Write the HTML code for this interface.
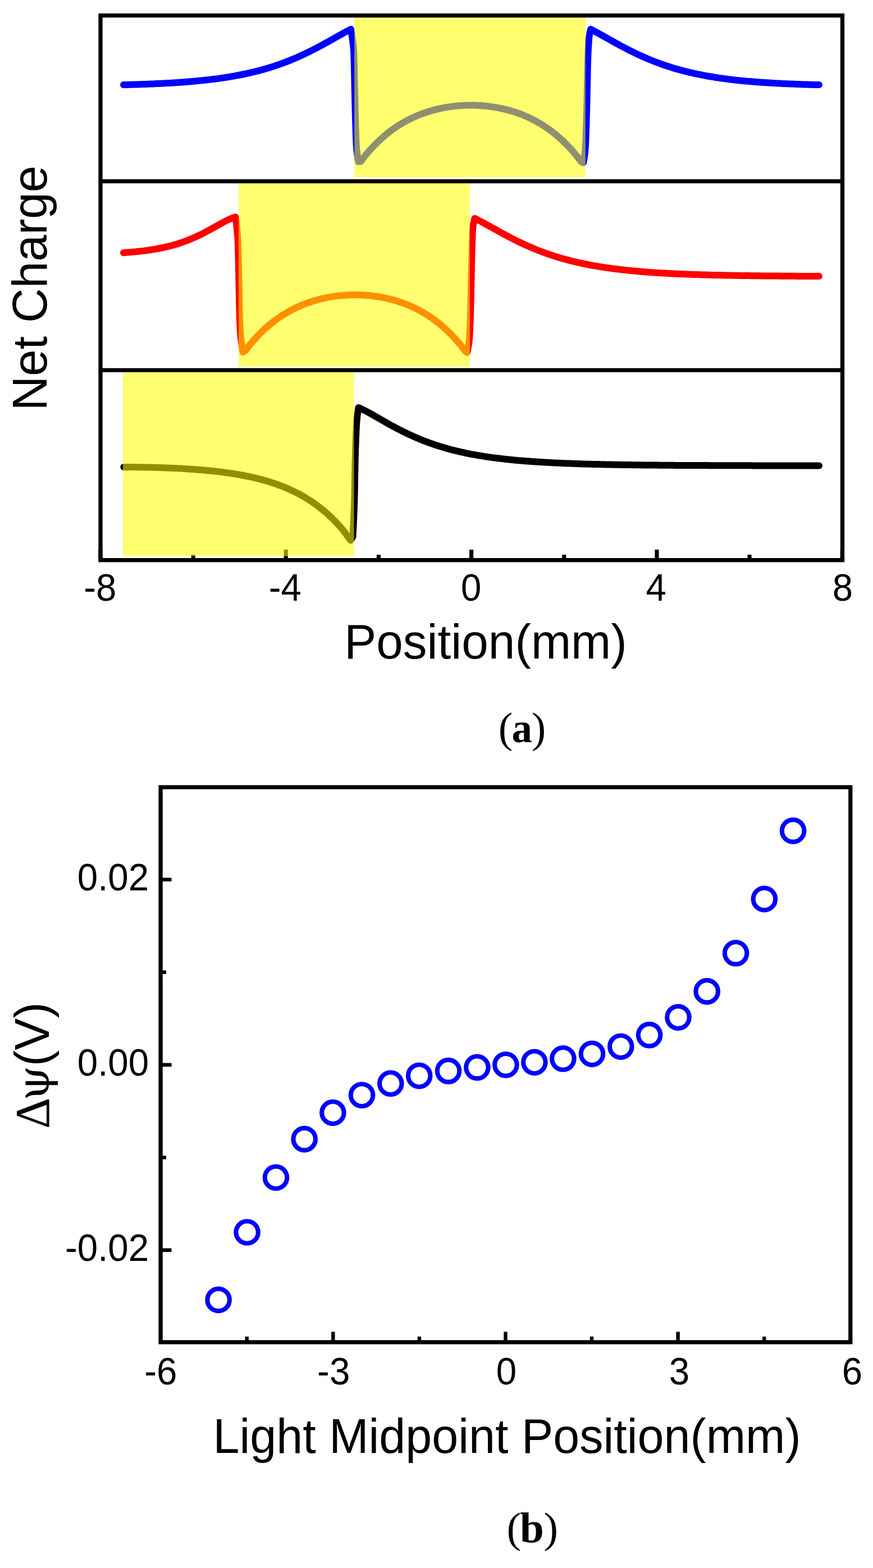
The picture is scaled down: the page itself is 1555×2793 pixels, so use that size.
<!DOCTYPE html>
<html><head><meta charset="utf-8"><title>Figure</title>
<style>html,body{margin:0;padding:0;background:#fff;}svg{display:block;}.s{font-family:"Liberation Sans",Arial,sans-serif;fill:#000;}.r{font-family:"Liberation Serif","Times New Roman",serif;fill:#000;}</style></head><body>
<svg width="1555" height="2793" viewBox="0 0 1555 2793">
<rect width="1555" height="2793" fill="#fff"/>
<path d="M178.9,997.7 V979 M509.2,997.7 V979 M839.6,997.7 V979 M1170,997.7 V979 M1500.3,997.7 V979 M344.1,997.7 V988 M674.4,997.7 V988 M1004.8,997.7 V988 M1335.1,997.7 V988" stroke="#000" stroke-width="7.1" fill="none"/>
<g fill="none" stroke-width="12.0" stroke-linejoin="round" stroke-linecap="round">
<path d="M220,151.1 L222.5,151 L225,151 L227.5,150.9 L230,150.8 L232.5,150.8 L235,150.7 L237.5,150.6 L240,150.5 L242.5,150.5 L245,150.4 L247.5,150.3 L250,150.2 L252.5,150.1 L255,150 L257.5,149.9 L260,149.9 L262.5,149.8 L265,149.7 L267.5,149.6 L270,149.5 L272.5,149.4 L275,149.2 L277.5,149.1 L280,149 L282.5,148.9 L285,148.8 L287.5,148.7 L290,148.5 L292.5,148.4 L295,148.3 L297.5,148.1 L300,148 L302.5,147.9 L305,147.7 L307.5,147.6 L310,147.4 L312.5,147.2 L315,147.1 L317.5,146.9 L320,146.7 L322.5,146.6 L325,146.4 L327.5,146.2 L330,146 L332.5,145.8 L335,145.6 L337.5,145.4 L340,145.2 L342.5,145 L345,144.8 L347.5,144.5 L350,144.3 L352.5,144.1 L355,143.8 L357.5,143.6 L360,143.3 L362.5,143.1 L365,142.8 L367.5,142.5 L370,142.2 L372.5,141.9 L375,141.6 L377.5,141.3 L380,141 L382.5,140.7 L385,140.4 L387.5,140.1 L390,139.7 L392.5,139.4 L395,139 L397.5,138.6 L400,138.3 L402.5,137.9 L405,137.5 L407.5,137.1 L410,136.7 L412.5,136.2 L415,135.8 L417.5,135.4 L420,134.9 L422.5,134.4 L425,134 L427.5,133.5 L430,133 L432.5,132.5 L435,132 L437.5,131.4 L440,130.9 L442.5,130.3 L445,129.8 L447.5,129.2 L450,128.6 L452.5,128 L455,127.4 L457.5,126.8 L460,126.1 L462.5,125.4 L465,124.8 L467.5,124.1 L470,123.4 L472.5,122.7 L475,121.9 L477.5,121.2 L480,120.4 L482.5,119.7 L485,118.9 L487.5,118.1 L490,117.2 L492.5,116.4 L495,115.5 L497.5,114.7 L500,113.8 L502.5,112.9 L505,112 L507.5,111 L510,110.1 L512.5,109.1 L515,108.1 L517.5,107.1 L520,106.1 L522.5,105 L525,104 L527.5,102.9 L530,101.8 L532.5,100.7 L535,99.6 L537.5,98.5 L540,97.3 L542.5,96.1 L545,94.9 L547.5,93.7 L550,92.5 L552.5,91.3 L555,90 L557.5,88.7 L560,87.5 L562.5,86.2 L565,84.8 L567.5,83.5 L570,82.2 L572.5,80.8 L575,79.5 L577.5,78.1 L580,76.7 L582.5,75.4 L585,74 L587.5,72.6 L590,71.2 L592.5,69.8 L595,68.4 L597.5,66.9 L600,65.5 L602.5,64.1 L605,62.7 L607.5,61.4 L610,60 L612.5,58.6 L615,57.2 L617.5,55.9 L620,54.6 L622.5,53.3 L625,52 L625.5,55.3 L626,58.3 L626.5,61.4 L627,64.4 L627.4,67.4 L627.9,70.4 L628.3,73.5 L628.7,76.5 L629,79.5 L629.3,82.5 L629.6,85.5 L629.9,88.6 L630,91.6 L630.2,94.6 L630.3,97.6 L630.4,100.6 L630.5,103.7 L630.6,106.7 L630.7,109.7 L630.8,112.7 L630.9,115.8 L630.9,118.8 L631,121.8 L631.1,124.8 L631.1,127.8 L631.2,130.9 L631.2,133.9 L631.3,136.9 L631.4,139.9 L631.4,143 L631.5,146 L631.5,149 L631.6,152 L631.7,155 L631.8,158.1 L631.8,161.1 L631.9,164.1 L632,167.1 L632.1,170.1 L632.1,173.2 L632.2,176.2 L632.3,179.2 L632.3,182.2 L632.4,185.3 L632.5,188.3 L632.6,191.3 L632.6,194.3 L632.7,197.3 L632.8,200.4 L632.9,203.4 L632.9,206.4 L633,209.4 L633.1,212.5 L633.2,215.5 L633.3,218.5 L633.4,221.5 L633.5,224.5 L633.6,227.6 L633.7,230.6 L633.7,233.6 L633.8,236.6 L633.9,239.7 L634,242.7 L634.2,245.7 L634.3,248.7 L634.4,251.7 L634.6,254.8 L634.7,257.8 L634.9,260.8 L635.1,263.8 L635.4,266.8 L635.7,269.9 L636.1,272.9 L636.5,275.9 L636.9,278.9 L637.4,282 L637.8,285 L638.3,288 L642.5,287.6 L645,284.3 L647.5,281.1 L650,277.9 L652.5,274.9 L655,271.9 L657.5,269 L660,266.2 L662.5,263.4 L665,260.8 L667.5,258.2 L670,255.6 L672.5,253.2 L675,250.8 L677.5,248.4 L680,246.2 L682.5,244 L685,241.8 L687.5,239.7 L690,237.7 L692.5,235.7 L695,233.8 L697.5,231.9 L700,230.1 L702.5,228.4 L705,226.7 L707.5,225 L710,223.4 L712.5,221.8 L715,220.3 L717.5,218.8 L720,217.4 L722.5,216 L725,214.7 L727.5,213.4 L730,212.1 L732.5,210.9 L735,209.7 L737.5,208.5 L740,207.4 L742.5,206.3 L745,205.3 L747.5,204.3 L750,203.3 L752.5,202.4 L755,201.5 L757.5,200.6 L760,199.8 L762.5,199 L765,198.2 L767.5,197.5 L770,196.7 L772.5,196.1 L775,195.4 L777.5,194.8 L780,194.2 L782.5,193.6 L785,193.1 L787.5,192.5 L790,192.1 L792.5,191.6 L795,191.1 L797.5,190.7 L800,190.4 L802.5,190 L805,189.7 L807.5,189.3 L810,189.1 L812.5,188.8 L815,188.6 L817.5,188.3 L820,188.2 L822.5,188 L825,187.9 L827.5,187.7 L830,187.6 L832.5,187.6 L835,187.5 L837.5,187.5 L840,187.5 L842.5,187.5 L845,187.6 L847.5,187.6 L850,187.7 L852.5,187.9 L855,188 L857.5,188.2 L860,188.4 L862.5,188.6 L865,188.8 L867.5,189.1 L870,189.4 L872.5,189.7 L875,190 L877.5,190.4 L880,190.8 L882.5,191.2 L885,191.6 L887.5,192.1 L890,192.6 L892.5,193.1 L895,193.6 L897.5,194.2 L900,194.8 L902.5,195.4 L905,196.1 L907.5,196.8 L910,197.5 L912.5,198.2 L915,199 L917.5,199.8 L920,200.7 L922.5,201.5 L925,202.4 L927.5,203.4 L930,204.3 L932.5,205.3 L935,206.4 L937.5,207.5 L940,208.6 L942.5,209.7 L945,210.9 L947.5,212.1 L950,213.4 L952.5,214.7 L955,216.1 L957.5,217.5 L960,218.9 L962.5,220.4 L965,221.9 L967.5,223.5 L970,225.1 L972.5,226.7 L975,228.4 L977.5,230.2 L980,232 L982.5,233.9 L985,235.8 L987.5,237.8 L990,239.8 L992.5,241.9 L995,244.1 L997.5,246.3 L1000,248.5 L1002.5,250.9 L1005,253.3 L1007.5,255.7 L1010,258.3 L1012.5,260.9 L1015,263.5 L1017.5,266.3 L1020,269.1 L1022.5,272 L1025,275 L1027.5,278 L1030,281.2 L1032.5,284.4 L1035,287.7 L1039,290 L1039.5,287 L1040.1,284 L1040.6,281 L1041.1,278 L1041.5,275 L1041.9,271.9 L1042.2,268.9 L1042.5,265.9 L1042.7,262.9 L1042.9,259.9 L1043,256.9 L1043.2,253.9 L1043.3,250.9 L1043.5,247.9 L1043.6,244.9 L1043.7,241.9 L1043.8,238.8 L1043.9,235.8 L1044,232.8 L1044.1,229.8 L1044.2,226.8 L1044.3,223.8 L1044.4,220.8 L1044.5,217.8 L1044.6,214.8 L1044.6,211.8 L1044.7,208.8 L1044.8,205.8 L1044.9,202.7 L1045,199.7 L1045.1,196.7 L1045.1,193.7 L1045.2,190.7 L1045.3,187.7 L1045.4,184.7 L1045.4,181.7 L1045.5,178.7 L1045.6,175.7 L1045.6,172.7 L1045.7,169.6 L1045.8,166.6 L1045.8,163.6 L1045.9,160.6 L1046,157.6 L1046,154.6 L1046.1,151.6 L1046.1,148.6 L1046.2,145.6 L1046.3,142.6 L1046.3,139.6 L1046.4,136.5 L1046.4,133.5 L1046.5,130.5 L1046.5,127.5 L1046.6,124.5 L1046.7,121.5 L1046.7,118.5 L1046.8,115.5 L1046.9,112.5 L1047,109.5 L1047.1,106.5 L1047.2,103.5 L1047.3,100.4 L1047.4,97.4 L1047.5,94.4 L1047.7,91.4 L1047.8,88.4 L1048,85.4 L1048.2,82.4 L1048.4,79.4 L1048.6,76.4 L1048.8,73.4 L1049,70.4 L1049.3,67.3 L1049.7,64.3 L1050.1,61.3 L1050.7,58.3 L1051.3,55.3 L1052,52 L1054.5,53.3 L1057,54.6 L1059.5,55.9 L1062,57.3 L1064.6,58.6 L1067.1,60 L1069.6,61.4 L1072.1,62.8 L1074.6,64.2 L1077.1,65.6 L1079.6,67 L1082.1,68.4 L1084.7,69.9 L1087.2,71.3 L1089.7,72.7 L1092.2,74.1 L1094.7,75.5 L1097.2,76.9 L1099.7,78.2 L1102.2,79.6 L1104.8,81 L1107.3,82.3 L1109.8,83.7 L1112.3,85 L1114.8,86.3 L1117.3,87.6 L1119.8,88.9 L1122.3,90.2 L1124.9,91.4 L1127.4,92.7 L1129.9,93.9 L1132.4,95.1 L1134.9,96.3 L1137.4,97.5 L1139.9,98.6 L1142.4,99.8 L1145,100.9 L1147.5,102 L1150,103.1 L1152.5,104.2 L1155,105.3 L1157.5,106.3 L1160,107.3 L1162.5,108.3 L1165.1,109.3 L1167.6,110.3 L1170.1,111.2 L1172.6,112.2 L1175.1,113.1 L1177.6,114 L1180.1,114.9 L1182.6,115.8 L1185.2,116.6 L1187.7,117.5 L1190.2,118.3 L1192.7,119.1 L1195.2,119.9 L1197.7,120.7 L1200.2,121.4 L1202.7,122.2 L1205.3,122.9 L1207.8,123.6 L1210.3,124.3 L1212.8,125 L1215.3,125.7 L1217.8,126.3 L1220.3,127 L1222.8,127.6 L1225.4,128.2 L1227.9,128.8 L1230.4,129.4 L1232.9,130 L1235.4,130.5 L1237.9,131.1 L1240.4,131.6 L1242.9,132.2 L1245.5,132.7 L1248,133.2 L1250.5,133.7 L1253,134.2 L1255.5,134.6 L1258,135.1 L1260.5,135.5 L1263,136 L1265.5,136.4 L1268.1,136.8 L1270.6,137.2 L1273.1,137.7 L1275.6,138 L1278.1,138.4 L1280.6,138.8 L1283.1,139.2 L1285.6,139.5 L1288.2,139.9 L1290.7,140.2 L1293.2,140.5 L1295.7,140.9 L1298.2,141.2 L1300.7,141.5 L1303.2,141.8 L1305.7,142.1 L1308.3,142.4 L1310.8,142.7 L1313.3,142.9 L1315.8,143.2 L1318.3,143.5 L1320.8,143.7 L1323.3,144 L1325.8,144.2 L1328.4,144.4 L1330.9,144.7 L1333.4,144.9 L1335.9,145.1 L1338.4,145.3 L1340.9,145.5 L1343.4,145.7 L1345.9,145.9 L1348.5,146.1 L1351,146.3 L1353.5,146.5 L1356,146.7 L1358.5,146.8 L1361,147 L1363.5,147.2 L1366,147.3 L1368.6,147.5 L1371.1,147.6 L1373.6,147.8 L1376.1,147.9 L1378.6,148.1 L1381.1,148.2 L1383.6,148.4 L1386.1,148.5 L1388.7,148.6 L1391.2,148.7 L1393.7,148.9 L1396.2,149 L1398.7,149.1 L1401.2,149.2 L1403.7,149.3 L1406.2,149.4 L1408.8,149.5 L1411.3,149.6 L1413.8,149.7 L1416.3,149.8 L1418.8,149.9 L1421.3,150 L1423.8,150.1 L1426.3,150.2 L1428.9,150.3 L1431.4,150.4 L1433.9,150.4 L1436.4,150.5 L1438.9,150.6 L1441.4,150.7 L1443.9,150.7 L1446.4,150.8 L1449,150.9 L1451.5,150.9 L1454,151 L1456.5,151.1 L1459,151.1" stroke="#0000ff"/>
<path d="M220,450.2 L222.5,450 L225.1,449.8 L227.6,449.6 L230.1,449.4 L232.6,449.2 L235.2,449 L237.7,448.8 L240.2,448.5 L242.7,448.3 L245.3,448 L247.8,447.8 L250.3,447.5 L252.8,447.2 L255.4,446.9 L257.9,446.6 L260.4,446.2 L262.9,445.9 L265.5,445.5 L268,445.1 L270.5,444.7 L273,444.3 L275.6,443.9 L278.1,443.5 L280.6,443 L283.1,442.5 L285.7,442 L288.2,441.5 L290.7,441 L293.2,440.4 L295.8,439.9 L298.3,439.3 L300.8,438.6 L303.3,438 L305.9,437.3 L308.4,436.6 L310.9,435.9 L313.4,435.2 L316,434.4 L318.5,433.6 L321,432.8 L323.5,431.9 L326.1,431.1 L328.6,430.2 L331.1,429.2 L333.6,428.3 L336.2,427.3 L338.7,426.2 L341.2,425.2 L343.7,424.1 L346.3,423 L348.8,421.9 L351.3,420.7 L353.8,419.5 L356.4,418.3 L358.9,417.1 L361.4,415.8 L363.9,414.5 L366.5,413.2 L369,411.8 L371.5,410.5 L374,409.1 L376.6,407.7 L379.1,406.3 L381.6,404.9 L384.1,403.5 L386.7,402.1 L389.2,400.6 L391.7,399.2 L394.2,397.8 L396.8,396.5 L399.3,395.1 L401.8,393.8 L404.3,392.5 L406.9,391.3 L409.4,390.2 L411.9,389.1 L414.4,388.1 L417,387.2 L419.5,386.4 L419.9,389.5 L420.3,392.5 L420.6,395.5 L421,398.5 L421.3,401.5 L421.7,404.5 L422,407.5 L422.3,410.6 L422.6,413.6 L422.9,416.6 L423.1,419.6 L423.3,422.6 L423.5,425.6 L423.7,428.6 L423.8,431.6 L423.9,434.6 L424,437.6 L424.1,440.6 L424.2,443.6 L424.3,446.6 L424.4,449.6 L424.5,452.6 L424.5,455.6 L424.6,458.6 L424.7,461.7 L424.7,464.7 L424.8,467.7 L424.9,470.7 L424.9,473.7 L425,476.7 L425,479.7 L425.1,482.7 L425.2,485.7 L425.2,488.7 L425.3,491.7 L425.3,494.7 L425.4,497.7 L425.5,500.7 L425.5,503.7 L425.6,506.8 L425.6,509.8 L425.7,512.8 L425.7,515.8 L425.8,518.8 L425.8,521.8 L425.9,524.8 L426,527.8 L426,530.8 L426.1,533.8 L426.2,536.8 L426.2,539.8 L426.3,542.8 L426.4,545.8 L426.4,548.8 L426.5,551.8 L426.6,554.9 L426.7,557.9 L426.8,560.9 L426.8,563.9 L426.9,566.9 L427,569.9 L427.1,572.9 L427.3,575.9 L427.4,578.9 L427.5,581.9 L427.7,584.9 L427.8,587.9 L428,590.9 L428.3,593.9 L428.5,596.9 L428.8,599.9 L429.2,603 L429.5,606 L429.9,609 L430.3,612 L430.7,615 L431.1,618 L431.6,621 L432,624 L432.5,627 L436.5,625.1 L439,621.8 L441.5,618.6 L444,615.4 L446.6,612.4 L449.1,609.4 L451.6,606.5 L454.1,603.7 L456.6,600.9 L459.1,598.2 L461.6,595.6 L464.1,593.1 L466.7,590.6 L469.2,588.2 L471.7,585.9 L474.2,583.6 L476.7,581.4 L479.2,579.3 L481.7,577.2 L484.2,575.1 L486.8,573.2 L489.3,571.3 L491.8,569.4 L494.3,567.6 L496.8,565.8 L499.3,564.1 L501.8,562.5 L504.3,560.8 L506.9,559.3 L509.4,557.8 L511.9,556.3 L514.4,554.9 L516.9,553.5 L519.4,552.1 L521.9,550.8 L524.4,549.6 L527,548.3 L529.5,547.2 L532,546 L534.5,544.9 L537,543.8 L539.5,542.8 L542,541.8 L544.6,540.8 L547.1,539.9 L549.6,539 L552.1,538.2 L554.6,537.3 L557.1,536.5 L559.6,535.8 L562.1,535 L564.7,534.3 L567.2,533.6 L569.7,533 L572.2,532.4 L574.7,531.8 L577.2,531.2 L579.7,530.7 L582.2,530.2 L584.8,529.7 L587.3,529.2 L589.8,528.8 L592.3,528.4 L594.8,528 L597.3,527.7 L599.8,527.3 L602.3,527 L604.9,526.7 L607.4,526.5 L609.9,526.3 L612.4,526.1 L614.9,525.9 L617.4,525.7 L619.9,525.6 L622.4,525.5 L625,525.4 L627.5,525.3 L630,525.3 L632.5,525.3 L635,525.3 L637.5,525.3 L640,525.4 L642.6,525.5 L645.1,525.6 L647.6,525.7 L650.1,525.9 L652.6,526.1 L655.1,526.3 L657.6,526.5 L660.1,526.7 L662.7,527 L665.2,527.3 L667.7,527.7 L670.2,528 L672.7,528.4 L675.2,528.8 L677.7,529.2 L680.2,529.7 L682.8,530.2 L685.3,530.7 L687.8,531.2 L690.3,531.8 L692.8,532.4 L695.3,533 L697.8,533.6 L700.3,534.3 L702.9,535 L705.4,535.8 L707.9,536.5 L710.4,537.3 L712.9,538.2 L715.4,539 L717.9,539.9 L720.4,540.8 L723,541.8 L725.5,542.8 L728,543.8 L730.5,544.9 L733,546 L735.5,547.2 L738,548.3 L740.6,549.6 L743.1,550.8 L745.6,552.1 L748.1,553.5 L750.6,554.9 L753.1,556.3 L755.6,557.8 L758.1,559.3 L760.7,560.8 L763.2,562.5 L765.7,564.1 L768.2,565.8 L770.7,567.6 L773.2,569.4 L775.7,571.3 L778.2,573.2 L780.8,575.1 L783.3,577.2 L785.8,579.3 L788.3,581.4 L790.8,583.6 L793.3,585.9 L795.8,588.2 L798.3,590.6 L800.9,593.1 L803.4,595.6 L805.9,598.2 L808.4,600.9 L810.9,603.7 L813.4,606.5 L815.9,609.4 L818.4,612.4 L821,615.4 L823.5,618.6 L826,621.8 L828.5,625.1 L832,628 L832.7,625 L833.3,621.9 L833.9,618.9 L834.5,615.9 L835,612.9 L835.5,609.8 L835.8,606.8 L836,603.8 L836.3,600.8 L836.4,597.7 L836.6,594.7 L836.8,591.7 L836.9,588.7 L837.1,585.6 L837.2,582.6 L837.3,579.6 L837.5,576.6 L837.6,573.5 L837.7,570.5 L837.8,567.5 L837.9,564.5 L838,561.4 L838,558.4 L838.1,555.4 L838.2,552.4 L838.3,549.3 L838.4,546.3 L838.5,543.3 L838.5,540.3 L838.6,537.2 L838.7,534.2 L838.8,531.2 L838.8,528.2 L838.9,525.1 L838.9,522.1 L839,519.1 L839.1,516.1 L839.1,513 L839.2,510 L839.3,507 L839.3,504 L839.4,500.9 L839.5,497.9 L839.5,494.9 L839.6,491.9 L839.7,488.8 L839.7,485.8 L839.8,482.8 L839.9,479.8 L839.9,476.7 L840,473.7 L840,470.7 L840.1,467.7 L840.2,464.6 L840.3,461.6 L840.3,458.6 L840.4,455.6 L840.5,452.5 L840.6,449.5 L840.7,446.5 L840.7,443.5 L840.8,440.4 L840.9,437.4 L841,434.4 L841.1,431.4 L841.2,428.3 L841.3,425.3 L841.4,422.3 L841.5,419.3 L841.6,416.2 L841.8,413.2 L842,410.2 L842.2,407.2 L842.4,404.1 L842.9,401.1 L843.4,398.1 L844.1,395.1 L844.8,392 L845.5,389 L848,390.2 L850.5,391.4 L853,392.7 L855.5,394 L858,395.3 L860.5,396.7 L863,398 L865.5,399.4 L868,400.8 L870.5,402.2 L873,403.6 L875.5,405 L878.1,406.3 L880.6,407.7 L883.1,409.1 L885.6,410.5 L888.1,411.9 L890.6,413.3 L893.1,414.7 L895.6,416 L898.1,417.4 L900.6,418.7 L903.1,420 L905.6,421.4 L908.1,422.7 L910.6,424 L913.1,425.3 L915.6,426.5 L918.1,427.8 L920.6,429 L923.1,430.3 L925.6,431.5 L928.1,432.7 L930.6,433.8 L933.1,435 L935.6,436.2 L938.2,437.3 L940.7,438.4 L943.2,439.5 L945.7,440.6 L948.2,441.6 L950.7,442.7 L953.2,443.7 L955.7,444.7 L958.2,445.7 L960.7,446.7 L963.2,447.7 L965.7,448.6 L968.2,449.5 L970.7,450.5 L973.2,451.4 L975.7,452.2 L978.2,453.1 L980.7,453.9 L983.2,454.8 L985.7,455.6 L988.2,456.4 L990.7,457.2 L993.2,458 L995.7,458.7 L998.2,459.5 L1000.8,460.2 L1003.3,460.9 L1005.8,461.6 L1008.3,462.3 L1010.8,462.9 L1013.3,463.6 L1015.8,464.3 L1018.3,464.9 L1020.8,465.5 L1023.3,466.1 L1025.8,466.7 L1028.3,467.3 L1030.8,467.8 L1033.3,468.4 L1035.8,469 L1038.3,469.5 L1040.8,470 L1043.3,470.5 L1045.8,471 L1048.3,471.5 L1050.8,472 L1053.3,472.5 L1055.8,472.9 L1058.3,473.4 L1060.9,473.8 L1063.4,474.2 L1065.9,474.7 L1068.4,475.1 L1070.9,475.5 L1073.4,475.9 L1075.9,476.2 L1078.4,476.6 L1080.9,477 L1083.4,477.3 L1085.9,477.7 L1088.4,478 L1090.9,478.4 L1093.4,478.7 L1095.9,479 L1098.4,479.3 L1100.9,479.6 L1103.4,479.9 L1105.9,480.2 L1108.4,480.5 L1110.9,480.8 L1113.4,481.1 L1115.9,481.3 L1118.4,481.6 L1120.9,481.9 L1123.5,482.1 L1126,482.3 L1128.5,482.6 L1131,482.8 L1133.5,483 L1136,483.3 L1138.5,483.5 L1141,483.7 L1143.5,483.9 L1146,484.1 L1148.5,484.3 L1151,484.5 L1153.5,484.7 L1156,484.9 L1158.5,485 L1161,485.2 L1163.5,485.4 L1166,485.6 L1168.5,485.7 L1171,485.9 L1173.5,486 L1176,486.2 L1178.5,486.3 L1181,486.5 L1183.6,486.6 L1186.1,486.8 L1188.6,486.9 L1191.1,487 L1193.6,487.2 L1196.1,487.3 L1198.6,487.4 L1201.1,487.5 L1203.6,487.7 L1206.1,487.8 L1208.6,487.9 L1211.1,488 L1213.6,488.1 L1216.1,488.2 L1218.6,488.3 L1221.1,488.4 L1223.6,488.5 L1226.1,488.6 L1228.6,488.7 L1231.1,488.8 L1233.6,488.9 L1236.1,488.9 L1238.6,489 L1241.1,489.1 L1243.6,489.2 L1246.2,489.3 L1248.7,489.3 L1251.2,489.4 L1253.7,489.5 L1256.2,489.6 L1258.7,489.6 L1261.2,489.7 L1263.7,489.8 L1266.2,489.8 L1268.7,489.9 L1271.2,490 L1273.7,490 L1276.2,490.1 L1278.7,490.1 L1281.2,490.2 L1283.7,490.2 L1286.2,490.3 L1288.7,490.3 L1291.2,490.4 L1293.7,490.4 L1296.2,490.5 L1298.7,490.5 L1301.2,490.6 L1303.7,490.6 L1306.3,490.7 L1308.8,490.7 L1311.3,490.8 L1313.8,490.8 L1316.3,490.8 L1318.8,490.9 L1321.3,490.9 L1323.8,491 L1326.3,491 L1328.8,491 L1331.3,491.1 L1333.8,491.1 L1336.3,491.1 L1338.8,491.2 L1341.3,491.2 L1343.8,491.2 L1346.3,491.2 L1348.8,491.3 L1351.3,491.3 L1353.8,491.3 L1356.3,491.4 L1358.8,491.4 L1361.3,491.4 L1363.8,491.4 L1366.3,491.5 L1368.9,491.5 L1371.4,491.5 L1373.9,491.5 L1376.4,491.6 L1378.9,491.6 L1381.4,491.6 L1383.9,491.6 L1386.4,491.6 L1388.9,491.7 L1391.4,491.7 L1393.9,491.7 L1396.4,491.7 L1398.9,491.7 L1401.4,491.7 L1403.9,491.8 L1406.4,491.8 L1408.9,491.8 L1411.4,491.8 L1413.9,491.8 L1416.4,491.8 L1418.9,491.9 L1421.4,491.9 L1423.9,491.9 L1426.4,491.9 L1429,491.9 L1431.5,491.9 L1434,491.9 L1436.5,492 L1439,492 L1441.5,492 L1444,492 L1446.5,492 L1449,492 L1451.5,492 L1454,492 L1456.5,492 L1459,492.1" stroke="#ff0000"/>
<path d="M220.3,832 L222.8,832.1 L225.3,832.1 L227.8,832.1 L230.3,832.1 L232.9,832.1 L235.4,832.1 L237.9,832.1 L240.4,832.1 L242.9,832.2 L245.4,832.2 L247.9,832.2 L250.4,832.3 L252.9,832.3 L255.5,832.3 L258,832.4 L260.5,832.4 L263,832.5 L265.5,832.5 L268,832.6 L270.5,832.6 L273,832.7 L275.5,832.7 L278.1,832.8 L280.6,832.9 L283.1,833 L285.6,833 L288.1,833.1 L290.6,833.2 L293.1,833.3 L295.6,833.4 L298.1,833.5 L300.6,833.6 L303.2,833.7 L305.7,833.8 L308.2,833.9 L310.7,834 L313.2,834.1 L315.7,834.2 L318.2,834.4 L320.7,834.5 L323.2,834.6 L325.8,834.8 L328.3,834.9 L330.8,835.1 L333.3,835.2 L335.8,835.4 L338.3,835.6 L340.8,835.7 L343.3,835.9 L345.8,836.1 L348.4,836.3 L350.9,836.5 L353.4,836.7 L355.9,836.9 L358.4,837.1 L360.9,837.3 L363.4,837.5 L365.9,837.7 L368.4,838 L371,838.2 L373.5,838.4 L376,838.7 L378.5,839 L381,839.2 L383.5,839.5 L386,839.8 L388.5,840.1 L391,840.4 L393.6,840.7 L396.1,841 L398.6,841.3 L401.1,841.7 L403.6,842 L406.1,842.4 L408.6,842.7 L411.1,843.1 L413.6,843.5 L416.1,843.9 L418.7,844.3 L421.2,844.7 L423.7,845.1 L426.2,845.6 L428.7,846 L431.2,846.5 L433.7,847 L436.2,847.5 L438.7,848 L441.3,848.5 L443.8,849 L446.3,849.5 L448.8,850.1 L451.3,850.7 L453.8,851.2 L456.3,851.8 L458.8,852.5 L461.3,853.1 L463.9,853.7 L466.4,854.4 L468.9,855.1 L471.4,855.8 L473.9,856.5 L476.4,857.3 L478.9,858 L481.4,858.8 L483.9,859.6 L486.5,860.4 L489,861.3 L491.5,862.1 L494,863 L496.5,863.9 L499,864.9 L501.5,865.8 L504,866.8 L506.5,867.8 L509.1,868.9 L511.6,869.9 L514.1,871 L516.6,872.1 L519.1,873.3 L521.6,874.5 L524.1,875.7 L526.6,876.9 L529.1,878.2 L531.7,879.5 L534.2,880.9 L536.7,882.2 L539.2,883.6 L541.7,885.1 L544.2,886.6 L546.7,888.1 L549.2,889.7 L551.7,891.3 L554.2,892.9 L556.8,894.6 L559.3,896.4 L561.8,898.2 L564.3,900 L566.8,901.9 L569.3,903.8 L571.8,905.8 L574.3,907.8 L576.8,909.9 L579.4,912 L581.9,914.2 L584.4,916.5 L586.9,918.8 L589.4,921.1 L591.9,923.6 L594.4,926.1 L596.9,928.6 L599.4,931.2 L602,933.9 L604.5,936.7 L607,939.5 L609.5,942.5 L612,945.4 L624.6,962.5 L628.5,956 L628.7,953 L628.8,949.9 L629,946.9 L629.1,943.9 L629.3,940.9 L629.4,937.8 L629.6,934.8 L629.7,931.8 L629.9,928.8 L630,925.7 L630.1,922.7 L630.3,919.7 L630.4,916.7 L630.5,913.6 L630.6,910.6 L630.8,907.6 L630.9,904.6 L631,901.5 L631.1,898.5 L631.2,895.5 L631.2,892.4 L631.3,889.4 L631.4,886.4 L631.5,883.4 L631.5,880.3 L631.6,877.3 L631.7,874.3 L631.7,871.3 L631.8,868.2 L631.8,865.2 L631.9,862.2 L631.9,859.2 L632,856.1 L632,853.1 L632.1,850.1 L632.2,847.1 L632.2,844 L632.3,841 L632.3,838 L632.4,834.9 L632.4,831.9 L632.5,828.9 L632.6,825.9 L632.6,822.8 L632.7,819.8 L632.8,816.8 L632.9,813.8 L633,810.7 L633,807.7 L633.1,804.7 L633.2,801.7 L633.3,798.6 L633.4,795.6 L633.5,792.6 L633.6,789.6 L633.7,786.5 L633.8,783.5 L633.9,780.5 L634,777.4 L634.2,774.4 L634.3,771.4 L634.4,768.4 L634.6,765.3 L634.7,762.3 L634.9,759.3 L635.1,756.3 L635.3,753.2 L635.5,750.2 L635.8,747.2 L636.1,744.2 L636.5,741.1 L636.8,738.1 L637.2,735.1 L637.7,732.1 L638.1,729 L638.5,726 L641,727.1 L643.5,728.2 L646,729.4 L648.5,730.7 L651,731.9 L653.5,733.2 L656,734.6 L658.5,735.9 L661,737.3 L663.5,738.7 L666,740.1 L668.5,741.6 L671,743 L673.5,744.4 L676,745.8 L678.5,747.3 L681,748.7 L683.5,750.1 L686,751.6 L688.5,753 L691,754.4 L693.5,755.8 L696,757.2 L698.5,758.5 L701,759.9 L703.5,761.2 L706,762.6 L708.5,763.9 L711,765.2 L713.5,766.5 L716,767.7 L718.5,769 L721.1,770.2 L723.6,771.4 L726.1,772.6 L728.6,773.8 L731.1,775 L733.6,776.1 L736.1,777.2 L738.6,778.3 L741.1,779.4 L743.6,780.5 L746.1,781.5 L748.6,782.6 L751.1,783.6 L753.6,784.6 L756.1,785.6 L758.6,786.5 L761.1,787.5 L763.6,788.4 L766.1,789.3 L768.6,790.2 L771.1,791 L773.6,791.9 L776.1,792.7 L778.6,793.5 L781.1,794.3 L783.6,795.1 L786.1,795.9 L788.6,796.6 L791.1,797.4 L793.6,798.1 L796.1,798.8 L798.6,799.5 L801.1,800.2 L803.6,800.9 L806.1,801.5 L808.6,802.1 L811.1,802.8 L813.6,803.4 L816.1,804 L818.6,804.5 L821.1,805.1 L823.6,805.7 L826.1,806.2 L828.6,806.8 L831.1,807.3 L833.6,807.8 L836.1,808.3 L838.6,808.8 L841.1,809.3 L843.6,809.7 L846.1,810.2 L848.6,810.6 L851.1,811.1 L853.6,811.5 L856.1,811.9 L858.6,812.3 L861.1,812.7 L863.6,813.1 L866.1,813.5 L868.6,813.9 L871.1,814.2 L873.6,814.6 L876.1,814.9 L878.6,815.3 L881.1,815.6 L883.6,815.9 L886.2,816.2 L888.7,816.5 L891.2,816.8 L893.7,817.1 L896.2,817.4 L898.7,817.7 L901.2,818 L903.7,818.2 L906.2,818.5 L908.7,818.8 L911.2,819 L913.7,819.3 L916.2,819.5 L918.7,819.7 L921.2,820 L923.7,820.2 L926.2,820.4 L928.7,820.6 L931.2,820.8 L933.7,821 L936.2,821.2 L938.7,821.4 L941.2,821.6 L943.7,821.8 L946.2,822 L948.7,822.2 L951.2,822.3 L953.7,822.5 L956.2,822.7 L958.7,822.8 L961.2,823 L963.7,823.1 L966.2,823.3 L968.7,823.4 L971.2,823.6 L973.7,823.7 L976.2,823.8 L978.7,824 L981.2,824.1 L983.7,824.2 L986.2,824.4 L988.7,824.5 L991.2,824.6 L993.7,824.7 L996.2,824.8 L998.7,824.9 L1001.2,825 L1003.7,825.2 L1006.2,825.3 L1008.7,825.4 L1011.2,825.5 L1013.7,825.5 L1016.2,825.6 L1018.7,825.7 L1021.2,825.8 L1023.7,825.9 L1026.2,826 L1028.7,826.1 L1031.2,826.2 L1033.7,826.2 L1036.2,826.3 L1038.7,826.4 L1041.2,826.5 L1043.7,826.5 L1046.2,826.6 L1048.8,826.7 L1051.3,826.7 L1053.8,826.8 L1056.3,826.9 L1058.8,826.9 L1061.3,827 L1063.8,827.1 L1066.3,827.1 L1068.8,827.2 L1071.3,827.2 L1073.8,827.3 L1076.3,827.3 L1078.8,827.4 L1081.3,827.4 L1083.8,827.5 L1086.3,827.5 L1088.8,827.6 L1091.3,827.6 L1093.8,827.7 L1096.3,827.7 L1098.8,827.8 L1101.3,827.8 L1103.8,827.8 L1106.3,827.9 L1108.8,827.9 L1111.3,828 L1113.8,828 L1116.3,828 L1118.8,828.1 L1121.3,828.1 L1123.8,828.1 L1126.3,828.2 L1128.8,828.2 L1131.3,828.2 L1133.8,828.3 L1136.3,828.3 L1138.8,828.3 L1141.3,828.3 L1143.8,828.4 L1146.3,828.4 L1148.8,828.4 L1151.3,828.4 L1153.8,828.5 L1156.3,828.5 L1158.8,828.5 L1161.3,828.5 L1163.8,828.6 L1166.3,828.6 L1168.8,828.6 L1171.3,828.6 L1173.8,828.7 L1176.3,828.7 L1178.8,828.7 L1181.3,828.7 L1183.8,828.7 L1186.3,828.8 L1188.8,828.8 L1191.3,828.8 L1193.8,828.8 L1196.3,828.8 L1198.8,828.8 L1201.3,828.9 L1203.8,828.9 L1206.3,828.9 L1208.8,828.9 L1211.3,828.9 L1213.9,828.9 L1216.4,828.9 L1218.9,829 L1221.4,829 L1223.9,829 L1226.4,829 L1228.9,829 L1231.4,829 L1233.9,829 L1236.4,829 L1238.9,829.1 L1241.4,829.1 L1243.9,829.1 L1246.4,829.1 L1248.9,829.1 L1251.4,829.1 L1253.9,829.1 L1256.4,829.1 L1258.9,829.1 L1261.4,829.1 L1263.9,829.2 L1266.4,829.2 L1268.9,829.2 L1271.4,829.2 L1273.9,829.2 L1276.4,829.2 L1278.9,829.2 L1281.4,829.2 L1283.9,829.2 L1286.4,829.2 L1288.9,829.2 L1291.4,829.2 L1293.9,829.2 L1296.4,829.3 L1298.9,829.3 L1301.4,829.3 L1303.9,829.3 L1306.4,829.3 L1308.9,829.3 L1311.4,829.3 L1313.9,829.3 L1316.4,829.3 L1318.9,829.3 L1321.4,829.3 L1323.9,829.3 L1326.4,829.3 L1328.9,829.3 L1331.4,829.3 L1333.9,829.3 L1336.4,829.3 L1338.9,829.3 L1341.4,829.4 L1343.9,829.4 L1346.4,829.4 L1348.9,829.4 L1351.4,829.4 L1353.9,829.4 L1356.4,829.4 L1358.9,829.4 L1361.4,829.4 L1363.9,829.4 L1366.4,829.4 L1368.9,829.4 L1371.4,829.4 L1373.9,829.4 L1376.4,829.4 L1379,829.4 L1381.5,829.4 L1384,829.4 L1386.5,829.4 L1389,829.4 L1391.5,829.4 L1394,829.4 L1396.5,829.4 L1399,829.4 L1401.5,829.4 L1404,829.4 L1406.5,829.4 L1409,829.4 L1411.5,829.4 L1414,829.4 L1416.5,829.4 L1419,829.4 L1421.5,829.4 L1424,829.4 L1426.5,829.4 L1429,829.5 L1431.5,829.5 L1434,829.5 L1436.5,829.5 L1439,829.5 L1441.5,829.5 L1444,829.5 L1446.5,829.5 L1449,829.5 L1451.5,829.5 L1454,829.5 L1456.5,829.5 L1459,829.5" stroke="#000000"/>
</g>
<g fill="#ffff00" fill-opacity="0.56">
<rect x="631.2" y="30.5" width="411.6" height="285.2"/>
<rect x="425.1" y="325.5" width="411.8" height="327.8"/>
<rect x="218.9" y="663" width="411.6" height="327.7"/>
</g>
<g stroke="#000" stroke-width="7.3" fill="none">
<rect x="179" y="27.6" width="1321.5" height="970.1"/>
<path d="M179,322.8 H1500.5 M179,659.3 H1500.5"/>
</g>
<text class="s" x="178.3" y="1070" font-size="65.4" text-anchor="middle" transform="translate(0,1070) scale(1,1.041) translate(0,-1070)">-8</text>
<text class="s" x="507.8" y="1070" font-size="65.4" text-anchor="middle" transform="translate(0,1070) scale(1,1.041) translate(0,-1070)">-4</text>
<text class="s" x="839.3" y="1070" font-size="65.4" text-anchor="middle" transform="translate(0,1070) scale(1,1.041) translate(0,-1070)">0</text>
<text class="s" x="1168.8" y="1070" font-size="65.4" text-anchor="middle" transform="translate(0,1070) scale(1,1.041) translate(0,-1070)">4</text>
<text class="s" x="1501" y="1070" font-size="65.4" text-anchor="middle" transform="translate(0,1070) scale(1,1.041) translate(0,-1070)">8</text>
<text class="s" x="613.3" y="1173.1" font-size="85.5" transform="translate(0,1173.1) scale(1,1.025) translate(0,-1173.1)">Position(mm)</text>
<text class="s" font-size="85.4" transform="translate(82.7,731.6) rotate(-90) scale(1,1.025)">Net Charge</text>
<text class="r" y="1322" font-size="76"><tspan x="887.7">(</tspan><tspan x="911.6" font-weight="bold" font-size="73">a</tspan><tspan x="946.9">)</tspan></text>
<path d="M593.3,2390.8 V2372.2 M900.5,2390.8 V2372.2 M1207.6,2390.8 V2372.2 M439.7,2390.8 V2380.7 M746.9,2390.8 V2380.7 M1054,2390.8 V2380.7 M1361.2,2390.8 V2380.7 M286.1,2226.8 H305.5 M286.1,1896.8 H305.5 M286.1,1566.8 H305.5 M286.1,2061.8 H295.9 M286.1,1731.8 H295.9" stroke="#000" stroke-width="6.4" fill="none"/>
<rect x="286.1" y="1402.2" width="1228.7" height="988.6" stroke="#000" stroke-width="7.3" fill="none"/>
<g fill="none" stroke="#0000ff" stroke-width="8.1">
<circle cx="389.1" cy="2315.4" r="19.75"/>
<circle cx="440.1" cy="2195" r="19.75"/>
<circle cx="491.5" cy="2097.5" r="19.75"/>
<circle cx="542.2" cy="2029.1" r="19.75"/>
<circle cx="592.9" cy="1982" r="19.75"/>
<circle cx="644.6" cy="1950.7" r="19.75"/>
<circle cx="695.8" cy="1930" r="19.75"/>
<circle cx="746.7" cy="1916.2" r="19.75"/>
<circle cx="798.6" cy="1907.6" r="19.75"/>
<circle cx="849.9" cy="1901.3" r="19.75"/>
<circle cx="900.9" cy="1896.7" r="19.75"/>
<circle cx="951.9" cy="1892.2" r="19.75"/>
<circle cx="1002.9" cy="1885.8" r="19.75"/>
<circle cx="1054.5" cy="1877.2" r="19.75"/>
<circle cx="1105.8" cy="1864.2" r="19.75"/>
<circle cx="1156.6" cy="1843.6" r="19.75"/>
<circle cx="1208" cy="1812.1" r="19.75"/>
<circle cx="1259.2" cy="1765.9" r="19.75"/>
<circle cx="1310.6" cy="1697.8" r="19.75"/>
<circle cx="1361.4" cy="1601.4" r="19.75"/>
<circle cx="1412.6" cy="1479.9" r="19.75"/>
</g>
<text class="s" x="286.3" y="2466" font-size="65.5" text-anchor="middle" transform="translate(0,2466) scale(1,1.041) translate(0,-2466)">-6</text>
<text class="s" x="594.2" y="2466" font-size="65.5" text-anchor="middle" transform="translate(0,2466) scale(1,1.041) translate(0,-2466)">-3</text>
<text class="s" x="902.1" y="2466" font-size="65.5" text-anchor="middle" transform="translate(0,2466) scale(1,1.041) translate(0,-2466)">0</text>
<text class="s" x="1210" y="2466" font-size="65.5" text-anchor="middle" transform="translate(0,2466) scale(1,1.041) translate(0,-2466)">3</text>
<text class="s" x="1517.9" y="2466" font-size="65.5" text-anchor="middle" transform="translate(0,2466) scale(1,1.041) translate(0,-2466)">6</text>
<text class="s" x="265.2" y="1586.4" font-size="65.5" text-anchor="end" transform="translate(0,1586.4) scale(1,1.041) translate(0,-1586.4)">0.02</text>
<text class="s" x="265.2" y="1916.4" font-size="65.5" text-anchor="end" transform="translate(0,1916.4) scale(1,1.041) translate(0,-1916.4)">0.00</text>
<text class="s" x="265.2" y="2246.4" font-size="65.5" text-anchor="end" transform="translate(0,2246.4) scale(1,1.041) translate(0,-2246.4)">-0.02</text>
<text class="s" x="379.5" y="2588" font-size="84.5" transform="translate(0,2588) scale(1,1.025) translate(0,-2588)">Light Midpoint Position(mm)</text>
<g transform="translate(86.7,0) rotate(-90)">
<text class="r" x="-2010.4" y="0" font-size="86">&#916;</text>
<text x="-1960.3" y="0" font-size="79" style="font-family:'DejaVu Serif',serif">&#968;</text>
<text class="s" x="-1899.3" y="0" font-size="85.5" transform="scale(1,1.025)">(V)</text>
</g>
<text class="r" y="2747.4" font-size="76.8"><tspan x="902.5">(</tspan><tspan x="925.9" font-weight="bold" font-size="77">b</tspan><tspan x="968.6">)</tspan></text>
</svg></body></html>
